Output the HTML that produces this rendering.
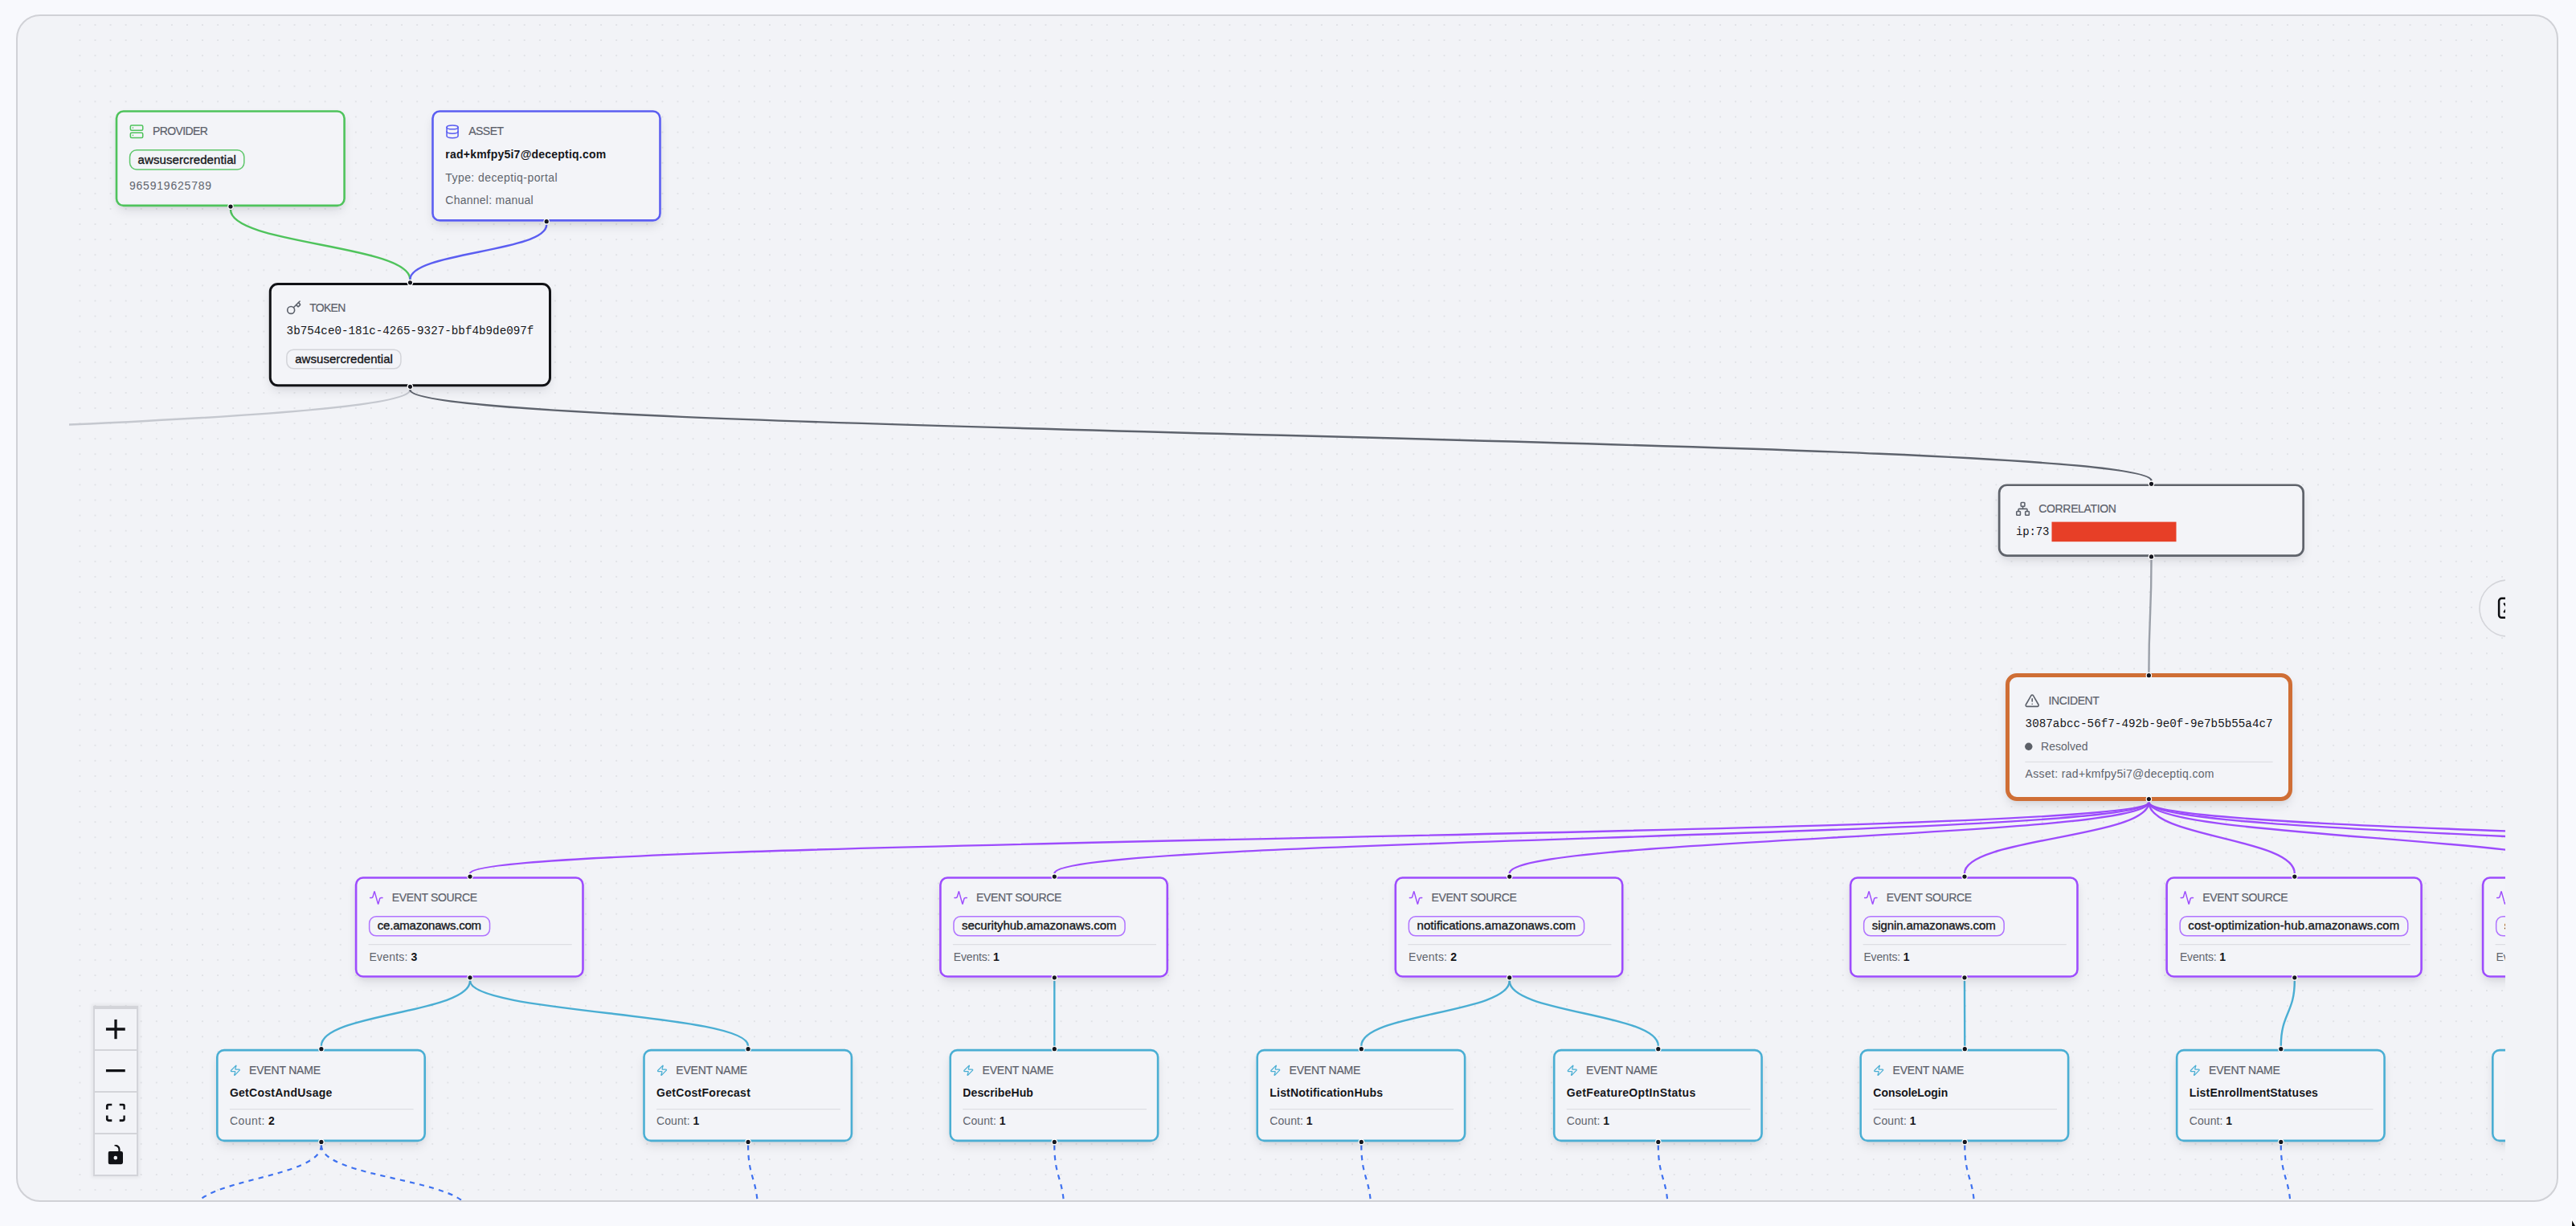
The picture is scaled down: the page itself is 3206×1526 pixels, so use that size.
<!DOCTYPE html><html><head><meta charset="utf-8"><title>Incident graph</title><style>
html,body{margin:0;padding:0;}
body{width:3206px;height:1526px;overflow:hidden;position:relative;background:#f8f9fd;font-family:"Liberation Sans", sans-serif;}
.canvas{position:absolute;left:20px;top:18px;width:3160px;height:1474px;border:2px solid #d0d1d6;border-radius:30px;background:#f2f3f7;}
.pane{position:absolute;left:86px;top:20px;width:3032px;height:1474px;overflow:hidden;}
.pane svg{position:absolute;left:0;top:0;}
.node{position:absolute;box-sizing:border-box;background:#f3f4f8;box-shadow:0 7px 14px -3px rgba(30,32,45,0.13),0 3px 6px -2px rgba(30,32,45,0.06);}
.ctrl{position:absolute;left:116.4px;top:1252.4px;width:51.2px;border:2px solid #d3d4d9;border-top-width:4px;border-bottom:none;box-shadow:0 0 4px 2px rgba(0,0,0,0.06);background:#f2f3f7;}
.ctrl div{height:50px;border-bottom:2px solid #d3d4d9;position:relative;}
.ctrl svg{position:absolute;left:50%;top:50%;transform:translate(-50%,-50%);}
</style></head><body>
<div class="canvas"></div>
<div class="pane">
<svg width="3032" height="1474" viewBox="86 20 3032 1474">
<defs><pattern id="dots" patternUnits="userSpaceOnUse" x="89.86" y="21.46" width="19.08" height="19.08"><circle cx="9.54" cy="9.54" r="0.7" fill="#c6c7cd"/></pattern></defs>
<rect x="86" y="20" width="3032" height="1474" fill="url(#dots)"/>
<path d="M287,261.1 C287,304.45 510.4,304.45 510.4,347.8" fill="none" stroke="#4fc35c" stroke-width="2.4"/>
<path d="M680.2,279.7 C680.2,313.75 510.4,313.75 510.4,347.8" fill="none" stroke="#5b5ef1" stroke-width="2.4"/>
<path d="M510.4,485.3 C510.4,550.4 -1594,550.4 -1594,615.5" fill="none" stroke="#c5c8cf" stroke-width="2.4"/>
<path d="M510.4,485.3 C510.4,541.8 2677.5,541.8 2677.5,598.3" fill="none" stroke="#5e636d" stroke-width="2.4"/>
<path d="M2677.5,696.9 C2677.5,766.8 2674.4,766.8 2674.4,836.7" fill="none" stroke="#9ba0a9" stroke-width="2.4"/>
<path d="M2674.4,998.6 C2674.4,1042.85 585,1042.85 585,1087.1" fill="none" stroke="#9d4cfd" stroke-width="2.4"/>
<path d="M2674.4,998.6 C2674.4,1042.85 1312.3,1042.85 1312.3,1087.1" fill="none" stroke="#9d4cfd" stroke-width="2.4"/>
<path d="M2674.4,998.6 C2674.4,1042.85 1878.7,1042.85 1878.7,1087.1" fill="none" stroke="#9d4cfd" stroke-width="2.4"/>
<path d="M2674.4,998.6 C2674.4,1042.85 2445,1042.85 2445,1087.1" fill="none" stroke="#9d4cfd" stroke-width="2.4"/>
<path d="M2674.4,998.6 C2674.4,1042.85 2855.8,1042.85 2855.8,1087.1" fill="none" stroke="#9d4cfd" stroke-width="2.4"/>
<path d="M2674.4,998.6 C2674.4,1042.85 3232,1042.85 3232,1087.1" fill="none" stroke="#9d4cfd" stroke-width="2.4"/>
<path d="M2674.4,998.6 C2674.4,1042.85 3642,1042.85 3642,1087.1" fill="none" stroke="#9d4cfd" stroke-width="2.4"/>
<path d="M2674.4,998.6 C2674.4,1042.85 4067,1042.85 4067,1087.1" fill="none" stroke="#9d4cfd" stroke-width="2.4"/>
<path d="M585,1220.8 C585,1261.25 399.9,1261.25 399.9,1301.7" fill="none" stroke="#4aaed3" stroke-width="2.4"/>
<path d="M585,1220.8 C585,1261.25 931.1,1261.25 931.1,1301.7" fill="none" stroke="#4aaed3" stroke-width="2.4"/>
<path d="M1312.3,1220.8 C1312.3,1261.25 1312.3,1261.25 1312.3,1301.7" fill="none" stroke="#4aaed3" stroke-width="2.4"/>
<path d="M1878.7,1220.8 C1878.7,1261.25 1694.3,1261.25 1694.3,1301.7" fill="none" stroke="#4aaed3" stroke-width="2.4"/>
<path d="M1878.7,1220.8 C1878.7,1261.25 2063.8,1261.25 2063.8,1301.7" fill="none" stroke="#4aaed3" stroke-width="2.4"/>
<path d="M2445,1220.8 C2445,1261.25 2445.3,1261.25 2445.3,1301.7" fill="none" stroke="#4aaed3" stroke-width="2.4"/>
<path d="M2855.8,1220.8 C2855.8,1261.25 2838.8,1261.25 2838.8,1301.7" fill="none" stroke="#4aaed3" stroke-width="2.4"/>
<path d="M3232,1220.8 C3232,1261.25 3231.9,1261.25 3231.9,1301.7" fill="none" stroke="#4aaed3" stroke-width="2.4"/>
<path d="M399.9,1425.4 C399.9,1467.1 240.2,1467.1 240.2,1508.8" fill="none" stroke="#3f72f0" stroke-width="2.2" stroke-dasharray="6.2 6.2"/>
<path d="M399.9,1425.4 C399.9,1467.1 583.5,1467.1 583.5,1508.8" fill="none" stroke="#3f72f0" stroke-width="2.2" stroke-dasharray="6.2 6.2"/>
<path d="M931.1,1425.4 C931.1,1467.1 943.1,1467.1 943.1,1508.8" fill="none" stroke="#3f72f0" stroke-width="2.2" stroke-dasharray="6.2 6.2"/>
<path d="M1312.3,1425.4 C1312.3,1467.1 1324.3,1467.1 1324.3,1508.8" fill="none" stroke="#3f72f0" stroke-width="2.2" stroke-dasharray="6.2 6.2"/>
<path d="M1694.3,1425.4 C1694.3,1467.1 1706.3,1467.1 1706.3,1508.8" fill="none" stroke="#3f72f0" stroke-width="2.2" stroke-dasharray="6.2 6.2"/>
<path d="M2063.8,1425.4 C2063.8,1467.1 2075.8,1467.1 2075.8,1508.8" fill="none" stroke="#3f72f0" stroke-width="2.2" stroke-dasharray="6.2 6.2"/>
<path d="M2445.3,1425.4 C2445.3,1467.1 2457.3,1467.1 2457.3,1508.8" fill="none" stroke="#3f72f0" stroke-width="2.2" stroke-dasharray="6.2 6.2"/>
<path d="M2838.8,1425.4 C2838.8,1467.1 2850.8,1467.1 2850.8,1508.8" fill="none" stroke="#3f72f0" stroke-width="2.2" stroke-dasharray="6.2 6.2"/>
<path d="M3231.9,1425.4 C3231.9,1467.1 3243.9,1467.1 3243.9,1508.8" fill="none" stroke="#3f72f0" stroke-width="2.2" stroke-dasharray="6.2 6.2"/>
</svg>
<div class="node" style="left:58px;top:117px;width:286px;height:120px;border-radius:10px"></div>
<div class="node" style="left:451px;top:117px;width:286px;height:139px;border-radius:10px"></div>
<div class="node" style="left:249px;top:332px;width:351px;height:129px;border-radius:11px"></div>
<div class="node" style="left:2401px;top:582px;width:381px;height:91px;border-radius:11px"></div>
<div class="node" style="left:2410px;top:818px;width:357px;height:159px;border-radius:14px"></div>
<div class="node" style="left:356px;top:1071px;width:285px;height:126px;border-radius:10px"></div>
<div class="node" style="left:1083px;top:1071px;width:285px;height:126px;border-radius:10px"></div>
<div class="node" style="left:1650px;top:1071px;width:284px;height:126px;border-radius:10px"></div>
<div class="node" style="left:2216px;top:1071px;width:285px;height:126px;border-radius:10px"></div>
<div class="node" style="left:2609px;top:1071px;width:320px;height:126px;border-radius:10px"></div>
<div class="node" style="left:3003px;top:1071px;width:285px;height:126px;border-radius:10px"></div>
<div class="node" style="left:183px;top:1286px;width:261px;height:115px;border-radius:10px"></div>
<div class="node" style="left:714px;top:1286px;width:261px;height:115px;border-radius:10px"></div>
<div class="node" style="left:1095px;top:1286px;width:261px;height:115px;border-radius:10px"></div>
<div class="node" style="left:1477px;top:1286px;width:261px;height:115px;border-radius:10px"></div>
<div class="node" style="left:1847px;top:1286px;width:261px;height:115px;border-radius:10px"></div>
<div class="node" style="left:2228px;top:1286px;width:261px;height:115px;border-radius:10px"></div>
<div class="node" style="left:2622px;top:1286px;width:261px;height:115px;border-radius:10px"></div>
<div class="node" style="left:3015px;top:1286px;width:261px;height:115px;border-radius:10px"></div>
<svg width="3032" height="1474" viewBox="86 20 3032 1474">
<rect x="145" y="138.5" width="283.6" height="117.4" rx="8.7" fill="none" stroke="#4fc35c" stroke-width="2.6"/>
<rect x="538.5" y="138.5" width="283" height="135.9" rx="8.7" fill="none" stroke="#5b5ef1" stroke-width="2.6"/>
<rect x="336.3" y="353.5" width="348.2" height="126.3" rx="9.5" fill="none" stroke="#111216" stroke-width="3"/>
<rect x="2488.15" y="603.75" width="378.5" height="87.8" rx="9.65" fill="none" stroke="#5f636b" stroke-width="2.7"/>
<rect x="2498.5" y="840.5" width="352" height="154" rx="11.5" fill="none" stroke="#cf6e35" stroke-width="5"/>
<rect x="443.1" y="1092.5" width="282.4" height="123" rx="8.7" fill="none" stroke="#9d4cfd" stroke-width="2.6"/>
<rect x="1170.4" y="1092.5" width="282.4" height="123" rx="8.7" fill="none" stroke="#9d4cfd" stroke-width="2.6"/>
<rect x="1736.8" y="1092.5" width="282.4" height="123" rx="8.7" fill="none" stroke="#9d4cfd" stroke-width="2.6"/>
<rect x="2303.1" y="1092.5" width="282.4" height="123" rx="8.7" fill="none" stroke="#9d4cfd" stroke-width="2.6"/>
<rect x="2696.6" y="1092.5" width="317" height="123" rx="8.7" fill="none" stroke="#9d4cfd" stroke-width="2.6"/>
<rect x="3090.1" y="1092.5" width="282.4" height="123" rx="8.7" fill="none" stroke="#9d4cfd" stroke-width="2.6"/>
<rect x="270.3" y="1307.1" width="258.4" height="112.8" rx="8.7" fill="none" stroke="#4aaed3" stroke-width="2.6"/>
<rect x="801.5" y="1307.1" width="258.4" height="112.8" rx="8.7" fill="none" stroke="#4aaed3" stroke-width="2.6"/>
<rect x="1182.7" y="1307.1" width="258.4" height="112.8" rx="8.7" fill="none" stroke="#4aaed3" stroke-width="2.6"/>
<rect x="1564.7" y="1307.1" width="258.4" height="112.8" rx="8.7" fill="none" stroke="#4aaed3" stroke-width="2.6"/>
<rect x="1934.2" y="1307.1" width="258.4" height="112.8" rx="8.7" fill="none" stroke="#4aaed3" stroke-width="2.6"/>
<rect x="2315.7" y="1307.1" width="258.4" height="112.8" rx="8.7" fill="none" stroke="#4aaed3" stroke-width="2.6"/>
<rect x="2709.2" y="1307.1" width="258.4" height="112.8" rx="8.7" fill="none" stroke="#4aaed3" stroke-width="2.6"/>
<rect x="3102.3" y="1307.1" width="258.4" height="112.8" rx="8.7" fill="none" stroke="#4aaed3" stroke-width="2.6"/>
<g transform="translate(160.8,154.5) scale(0.77)" fill="none" stroke="#4fc35c" stroke-width="2" stroke-linecap="round" stroke-linejoin="round"><rect width="20" height="8" x="2" y="2" rx="2" ry="2"/><rect width="20" height="8" x="2" y="14" rx="2" ry="2"/><line x1="6" x2="6.01" y1="6" y2="6"/><line x1="6" x2="6.01" y1="18" y2="18"/></g>
<text x="189.9" y="168" font-family='"Liberation Sans", sans-serif' font-size="14" font-weight="400" fill="#5c616b" stroke="#5c616b" stroke-width="0.2" textLength="68.9" lengthAdjust="spacing">PROVIDER</text>
<rect x="161.55" y="186.75" width="142.3" height="24.3" rx="8.5" fill="none" stroke="#5fc76b" stroke-width="1.5"/>
<text x="171.6" y="203.8" font-family='"Liberation Sans", sans-serif' font-size="15" font-weight="400" fill="#15161a" stroke="#15161a" stroke-width="0.35" textLength="122.3" lengthAdjust="spacing">awsusercredential</text>
<text x="160.9" y="235.9" font-family='"Liberation Sans", sans-serif' font-size="14" font-weight="400" fill="#5f646d" textLength="102.2" lengthAdjust="spacing">965919625789</text>
<g transform="translate(553.7,154.5) scale(0.78)" fill="none" stroke="#5b5ef1" stroke-width="2" stroke-linecap="round" stroke-linejoin="round"><ellipse cx="12" cy="5" rx="9" ry="3"/><path d="M3 5V19A9 3 0 0 0 21 19V5"/><path d="M3 12A9 3 0 0 0 21 12"/></g>
<text x="583.3" y="168" font-family='"Liberation Sans", sans-serif' font-size="14" font-weight="400" fill="#5c616b" stroke="#5c616b" stroke-width="0.2" textLength="43.7" lengthAdjust="spacing">ASSET</text>
<text x="554.3" y="196.8" font-family='"Liberation Sans", sans-serif' font-size="14" font-weight="700" fill="#15161a" textLength="199.9" lengthAdjust="spacing">rad+kmfpy5i7@deceptiq.com</text>
<text x="554.3" y="226" font-family='"Liberation Sans", sans-serif' font-size="14" font-weight="400" fill="#5f646d" textLength="139.3" lengthAdjust="spacing">Type: deceptiq-portal</text>
<text x="554.3" y="254.2" font-family='"Liberation Sans", sans-serif' font-size="14" font-weight="400" fill="#5f646d" textLength="109.4" lengthAdjust="spacing">Channel: manual</text>
<g transform="translate(356.1,373.4) scale(0.81)" fill="none" stroke="#5c616b" stroke-width="2" stroke-linecap="round" stroke-linejoin="round"><path d="m15.5 7.5 2.3 2.3a1 1 0 0 0 1.4 0l2.1-2.1a1 1 0 0 0 0-1.4L19 4"/><path d="m21 2-9.6 9.6"/><circle cx="7.5" cy="15.5" r="5.5"/></g>
<text x="385.3" y="387.9" font-family='"Liberation Sans", sans-serif' font-size="14" font-weight="400" fill="#5c616b" stroke="#5c616b" stroke-width="0.2" textLength="45" lengthAdjust="spacing">TOKEN</text>
<text x="356.6" y="416.4" font-family='"Liberation Mono", monospace' font-size="14.26" font-weight="400" fill="#15161a" textLength="307.8" lengthAdjust="spacing">3b754ce0-181c-4265-9327-bbf4b9de097f</text>
<rect x="356.85" y="435.15" width="142.1" height="23.7" rx="8.5" fill="none" stroke="#d3d4d9" stroke-width="1.5"/>
<text x="367.2" y="452.1" font-family='"Liberation Sans", sans-serif' font-size="15" font-weight="400" fill="#15161a" stroke="#15161a" stroke-width="0.35" textLength="121.7" lengthAdjust="spacing">awsusercredential</text>
<g transform="translate(2508.2,624) scale(0.78)" fill="none" stroke="#5c616b" stroke-width="2" stroke-linecap="round" stroke-linejoin="round"><rect x="16" y="16" width="6" height="6" rx="1"/><rect x="2" y="16" width="6" height="6" rx="1"/><rect x="9" y="2" width="6" height="6" rx="1"/><path d="M5 16v-3a1 1 0 0 1 1-1h12a1 1 0 0 1 1 1v3"/><path d="M12 12V8"/></g>
<text x="2537.3" y="637.9" font-family='"Liberation Sans", sans-serif' font-size="14" font-weight="400" fill="#5c616b" stroke="#5c616b" stroke-width="0.2" textLength="96.6" lengthAdjust="spacing">CORRELATION</text>
<text x="2509.1" y="666.4" font-family='"Liberation Mono", monospace' font-size="14" font-weight="400" fill="#15161a" textLength="41.3" lengthAdjust="spacing">ip:73</text>
<rect x="2553.5" y="649.6" width="155" height="24.6" fill="#e73f27"/>
<g transform="translate(2519.6,862.6) scale(0.8)" fill="none" stroke="#5c616b" stroke-width="2" stroke-linecap="round" stroke-linejoin="round"><path d="m21.73 18-8-14a2 2 0 0 0-3.48 0l-8 14A2 2 0 0 0 4 21h16a2 2 0 0 0 1.73-3"/><path d="M12 9v4"/><path d="M12 17h.01"/></g>
<text x="2549.4" y="877.3" font-family='"Liberation Sans", sans-serif' font-size="14" font-weight="400" fill="#5c616b" stroke="#5c616b" stroke-width="0.2" textLength="63.5" lengthAdjust="spacing">INCIDENT</text>
<text x="2520.6" y="905.2" font-family='"Liberation Mono", monospace' font-size="14.26" font-weight="400" fill="#15161a" textLength="308" lengthAdjust="spacing">3087abcc-56f7-492b-9e0f-9e7b5b55a4c7</text>
<circle cx="2524.8" cy="929.3" r="4.7" fill="#5c6068"/>
<text x="2540.1" y="934.2" font-family='"Liberation Sans", sans-serif' font-size="14" font-weight="400" fill="#5f646d" textLength="58.4" lengthAdjust="spacing">Resolved</text>
<line x1="2520.3" y1="948.3" x2="2828.6" y2="948.3" stroke="#dddee3" stroke-width="1.3"/>
<text x="2520.6" y="968" font-family='"Liberation Sans", sans-serif' font-size="14" font-weight="400" fill="#5f646d" textLength="234.9" lengthAdjust="spacing">Asset: rad+kmfpy5i7@deceptiq.com</text>
<g transform="translate(459.1,1108.2) scale(0.77)" fill="none" stroke="#9d4cfd" stroke-width="1.9" stroke-linecap="round" stroke-linejoin="round"><path d="M22 12h-2.48a2 2 0 0 0-1.93 1.46l-2.35 8.36a.25.25 0 0 1-.48 0L9.24 2.18a.25.25 0 0 0-.48 0l-2.35 8.36A2 2 0 0 1 4.49 12H2"/></g>
<text x="487.7" y="1122.4" font-family='"Liberation Sans", sans-serif' font-size="14" font-weight="400" fill="#5c616b" stroke="#5c616b" stroke-width="0.2" textLength="106.4" lengthAdjust="spacing">EVENT SOURCE</text>
<rect x="459.65" y="1140.75" width="149.9" height="24.1" rx="8.5" fill="none" stroke="#b073ff" stroke-width="1.5"/>
<text x="469.8" y="1157.05" font-family='"Liberation Sans", sans-serif' font-size="15" font-weight="400" fill="#15161a" stroke="#15161a" stroke-width="0.35" textLength="129.3" lengthAdjust="spacing">ce.amazonaws.com</text>
<line x1="458.6" y1="1175.7" x2="711.7" y2="1175.7" stroke="#dddee3" stroke-width="1.3"/>
<text x="459.4" y="1196.2" font-family='"Liberation Sans", sans-serif' font-size="14" textLength="60" lengthAdjust="spacing"><tspan fill="#5f646d" font-weight="400">Events: </tspan><tspan fill="#15161a" font-weight="700">3</tspan></text>
<g transform="translate(1186.4,1108.2) scale(0.77)" fill="none" stroke="#9d4cfd" stroke-width="1.9" stroke-linecap="round" stroke-linejoin="round"><path d="M22 12h-2.48a2 2 0 0 0-1.93 1.46l-2.35 8.36a.25.25 0 0 1-.48 0L9.24 2.18a.25.25 0 0 0-.48 0l-2.35 8.36A2 2 0 0 1 4.49 12H2"/></g>
<text x="1215" y="1122.4" font-family='"Liberation Sans", sans-serif' font-size="14" font-weight="400" fill="#5c616b" stroke="#5c616b" stroke-width="0.2" textLength="106.4" lengthAdjust="spacing">EVENT SOURCE</text>
<rect x="1186.95" y="1140.75" width="213.1" height="24.1" rx="8.5" fill="none" stroke="#b073ff" stroke-width="1.5"/>
<text x="1197.1" y="1157.05" font-family='"Liberation Sans", sans-serif' font-size="15" font-weight="400" fill="#15161a" stroke="#15161a" stroke-width="0.35" textLength="192.5" lengthAdjust="spacing">securityhub.amazonaws.com</text>
<line x1="1185.9" y1="1175.7" x2="1439" y2="1175.7" stroke="#dddee3" stroke-width="1.3"/>
<text x="1186.7" y="1196.2" font-family='"Liberation Sans", sans-serif' font-size="14" textLength="57.2" lengthAdjust="spacing"><tspan fill="#5f646d" font-weight="400">Events: </tspan><tspan fill="#15161a" font-weight="700">1</tspan></text>
<g transform="translate(1752.8,1108.2) scale(0.77)" fill="none" stroke="#9d4cfd" stroke-width="1.9" stroke-linecap="round" stroke-linejoin="round"><path d="M22 12h-2.48a2 2 0 0 0-1.93 1.46l-2.35 8.36a.25.25 0 0 1-.48 0L9.24 2.18a.25.25 0 0 0-.48 0l-2.35 8.36A2 2 0 0 1 4.49 12H2"/></g>
<text x="1781.4" y="1122.4" font-family='"Liberation Sans", sans-serif' font-size="14" font-weight="400" fill="#5c616b" stroke="#5c616b" stroke-width="0.2" textLength="106.4" lengthAdjust="spacing">EVENT SOURCE</text>
<rect x="1753.35" y="1140.75" width="218.2" height="24.1" rx="8.5" fill="none" stroke="#b073ff" stroke-width="1.5"/>
<text x="1763.5" y="1157.05" font-family='"Liberation Sans", sans-serif' font-size="15" font-weight="400" fill="#15161a" stroke="#15161a" stroke-width="0.35" textLength="197.6" lengthAdjust="spacing">notifications.amazonaws.com</text>
<line x1="1752.3" y1="1175.7" x2="2005.4" y2="1175.7" stroke="#dddee3" stroke-width="1.3"/>
<text x="1753.1" y="1196.2" font-family='"Liberation Sans", sans-serif' font-size="14" textLength="60" lengthAdjust="spacing"><tspan fill="#5f646d" font-weight="400">Events: </tspan><tspan fill="#15161a" font-weight="700">2</tspan></text>
<g transform="translate(2319.1,1108.2) scale(0.77)" fill="none" stroke="#9d4cfd" stroke-width="1.9" stroke-linecap="round" stroke-linejoin="round"><path d="M22 12h-2.48a2 2 0 0 0-1.93 1.46l-2.35 8.36a.25.25 0 0 1-.48 0L9.24 2.18a.25.25 0 0 0-.48 0l-2.35 8.36A2 2 0 0 1 4.49 12H2"/></g>
<text x="2347.7" y="1122.4" font-family='"Liberation Sans", sans-serif' font-size="14" font-weight="400" fill="#5c616b" stroke="#5c616b" stroke-width="0.2" textLength="106.4" lengthAdjust="spacing">EVENT SOURCE</text>
<rect x="2319.65" y="1140.75" width="174.5" height="24.1" rx="8.5" fill="none" stroke="#b073ff" stroke-width="1.5"/>
<text x="2329.8" y="1157.05" font-family='"Liberation Sans", sans-serif' font-size="15" font-weight="400" fill="#15161a" stroke="#15161a" stroke-width="0.35" textLength="153.9" lengthAdjust="spacing">signin.amazonaws.com</text>
<line x1="2318.6" y1="1175.7" x2="2571.7" y2="1175.7" stroke="#dddee3" stroke-width="1.3"/>
<text x="2319.4" y="1196.2" font-family='"Liberation Sans", sans-serif' font-size="14" textLength="57.2" lengthAdjust="spacing"><tspan fill="#5f646d" font-weight="400">Events: </tspan><tspan fill="#15161a" font-weight="700">1</tspan></text>
<g transform="translate(2712.6,1108.2) scale(0.77)" fill="none" stroke="#9d4cfd" stroke-width="1.9" stroke-linecap="round" stroke-linejoin="round"><path d="M22 12h-2.48a2 2 0 0 0-1.93 1.46l-2.35 8.36a.25.25 0 0 1-.48 0L9.24 2.18a.25.25 0 0 0-.48 0l-2.35 8.36A2 2 0 0 1 4.49 12H2"/></g>
<text x="2741.2" y="1122.4" font-family='"Liberation Sans", sans-serif' font-size="14" font-weight="400" fill="#5c616b" stroke="#5c616b" stroke-width="0.2" textLength="106.4" lengthAdjust="spacing">EVENT SOURCE</text>
<rect x="2713.15" y="1140.75" width="283.6" height="24.1" rx="8.5" fill="none" stroke="#b073ff" stroke-width="1.5"/>
<text x="2723.3" y="1157.05" font-family='"Liberation Sans", sans-serif' font-size="15" font-weight="400" fill="#15161a" stroke="#15161a" stroke-width="0.35" textLength="263" lengthAdjust="spacing">cost-optimization-hub.amazonaws.com</text>
<line x1="2712.1" y1="1175.7" x2="2999.8" y2="1175.7" stroke="#dddee3" stroke-width="1.3"/>
<text x="2712.9" y="1196.2" font-family='"Liberation Sans", sans-serif' font-size="14" textLength="57.2" lengthAdjust="spacing"><tspan fill="#5f646d" font-weight="400">Events: </tspan><tspan fill="#15161a" font-weight="700">1</tspan></text>
<g transform="translate(3106.1,1108.2) scale(0.77)" fill="none" stroke="#9d4cfd" stroke-width="1.9" stroke-linecap="round" stroke-linejoin="round"><path d="M22 12h-2.48a2 2 0 0 0-1.93 1.46l-2.35 8.36a.25.25 0 0 1-.48 0L9.24 2.18a.25.25 0 0 0-.48 0l-2.35 8.36A2 2 0 0 1 4.49 12H2"/></g>
<text x="3134.7" y="1122.4" font-family='"Liberation Sans", sans-serif' font-size="14" font-weight="400" fill="#5c616b" stroke="#5c616b" stroke-width="0.2" textLength="106.4" lengthAdjust="spacing">EVENT SOURCE</text>
<rect x="3106.65" y="1140.75" width="140.6" height="24.1" rx="8.5" fill="none" stroke="#b073ff" stroke-width="1.5"/>
<text x="3116.8" y="1157.05" font-family='"Liberation Sans", sans-serif' font-size="15" font-weight="400" fill="#15161a" stroke="#15161a" stroke-width="0.35" textLength="120" lengthAdjust="spacing">s3.amazonaws.com</text>
<line x1="3105.6" y1="1175.7" x2="3358.7" y2="1175.7" stroke="#dddee3" stroke-width="1.3"/>
<text x="3106.4" y="1196.2" font-family='"Liberation Sans", sans-serif' font-size="14" textLength="57.2" lengthAdjust="spacing"><tspan fill="#5f646d" font-weight="400">Events: </tspan><tspan fill="#15161a" font-weight="700">1</tspan></text>
<g transform="translate(285.5,1325) scale(0.61)" fill="none" stroke="#4aaed3" stroke-width="2" stroke-linecap="round" stroke-linejoin="round"><path d="M4 14a1 1 0 0 1-.78-1.63l9.9-10.2a.5.5 0 0 1 .86.46l-1.92 6.02A1 1 0 0 0 13 10h7a1 1 0 0 1 .78 1.63l-9.9 10.2a.5.5 0 0 1-.86-.46l1.92-6.02A1 1 0 0 0 11 14z"/></g>
<text x="310.1" y="1336.7" font-family='"Liberation Sans", sans-serif' font-size="14" font-weight="400" fill="#5c616b" stroke="#5c616b" stroke-width="0.2" textLength="88.9" lengthAdjust="spacing">EVENT NAME</text>
<text x="285.9" y="1365.3" font-family='"Liberation Sans", sans-serif' font-size="14" font-weight="700" fill="#15161a" textLength="127.4" lengthAdjust="spacing">GetCostAndUsage</text>
<line x1="285.9" y1="1380.6" x2="514.6" y2="1380.6" stroke="#dddee3" stroke-width="1.3"/>
<text x="285.9" y="1400" font-family='"Liberation Sans", sans-serif' font-size="14" textLength="56" lengthAdjust="spacing"><tspan fill="#5f646d" font-weight="400">Count: </tspan><tspan fill="#15161a" font-weight="700">2</tspan></text>
<g transform="translate(816.7,1325) scale(0.61)" fill="none" stroke="#4aaed3" stroke-width="2" stroke-linecap="round" stroke-linejoin="round"><path d="M4 14a1 1 0 0 1-.78-1.63l9.9-10.2a.5.5 0 0 1 .86.46l-1.92 6.02A1 1 0 0 0 13 10h7a1 1 0 0 1 .78 1.63l-9.9 10.2a.5.5 0 0 1-.86-.46l1.92-6.02A1 1 0 0 0 11 14z"/></g>
<text x="841.3" y="1336.7" font-family='"Liberation Sans", sans-serif' font-size="14" font-weight="400" fill="#5c616b" stroke="#5c616b" stroke-width="0.2" textLength="88.9" lengthAdjust="spacing">EVENT NAME</text>
<text x="817.1" y="1365.3" font-family='"Liberation Sans", sans-serif' font-size="14" font-weight="700" fill="#15161a" textLength="116.7" lengthAdjust="spacing">GetCostForecast</text>
<line x1="817.1" y1="1380.6" x2="1045.8" y2="1380.6" stroke="#dddee3" stroke-width="1.3"/>
<text x="817.1" y="1400" font-family='"Liberation Sans", sans-serif' font-size="14" textLength="53.3" lengthAdjust="spacing"><tspan fill="#5f646d" font-weight="400">Count: </tspan><tspan fill="#15161a" font-weight="700">1</tspan></text>
<g transform="translate(1197.9,1325) scale(0.61)" fill="none" stroke="#4aaed3" stroke-width="2" stroke-linecap="round" stroke-linejoin="round"><path d="M4 14a1 1 0 0 1-.78-1.63l9.9-10.2a.5.5 0 0 1 .86.46l-1.92 6.02A1 1 0 0 0 13 10h7a1 1 0 0 1 .78 1.63l-9.9 10.2a.5.5 0 0 1-.86-.46l1.92-6.02A1 1 0 0 0 11 14z"/></g>
<text x="1222.5" y="1336.7" font-family='"Liberation Sans", sans-serif' font-size="14" font-weight="400" fill="#5c616b" stroke="#5c616b" stroke-width="0.2" textLength="88.9" lengthAdjust="spacing">EVENT NAME</text>
<text x="1198.3" y="1365.3" font-family='"Liberation Sans", sans-serif' font-size="14" font-weight="700" fill="#15161a" textLength="87.6" lengthAdjust="spacing">DescribeHub</text>
<line x1="1198.3" y1="1380.6" x2="1427" y2="1380.6" stroke="#dddee3" stroke-width="1.3"/>
<text x="1198.3" y="1400" font-family='"Liberation Sans", sans-serif' font-size="14" textLength="53.3" lengthAdjust="spacing"><tspan fill="#5f646d" font-weight="400">Count: </tspan><tspan fill="#15161a" font-weight="700">1</tspan></text>
<g transform="translate(1579.9,1325) scale(0.61)" fill="none" stroke="#4aaed3" stroke-width="2" stroke-linecap="round" stroke-linejoin="round"><path d="M4 14a1 1 0 0 1-.78-1.63l9.9-10.2a.5.5 0 0 1 .86.46l-1.92 6.02A1 1 0 0 0 13 10h7a1 1 0 0 1 .78 1.63l-9.9 10.2a.5.5 0 0 1-.86-.46l1.92-6.02A1 1 0 0 0 11 14z"/></g>
<text x="1604.5" y="1336.7" font-family='"Liberation Sans", sans-serif' font-size="14" font-weight="400" fill="#5c616b" stroke="#5c616b" stroke-width="0.2" textLength="88.9" lengthAdjust="spacing">EVENT NAME</text>
<text x="1580.3" y="1365.3" font-family='"Liberation Sans", sans-serif' font-size="14" font-weight="700" fill="#15161a" textLength="140.7" lengthAdjust="spacing">ListNotificationHubs</text>
<line x1="1580.3" y1="1380.6" x2="1809" y2="1380.6" stroke="#dddee3" stroke-width="1.3"/>
<text x="1580.3" y="1400" font-family='"Liberation Sans", sans-serif' font-size="14" textLength="53.3" lengthAdjust="spacing"><tspan fill="#5f646d" font-weight="400">Count: </tspan><tspan fill="#15161a" font-weight="700">1</tspan></text>
<g transform="translate(1949.4,1325) scale(0.61)" fill="none" stroke="#4aaed3" stroke-width="2" stroke-linecap="round" stroke-linejoin="round"><path d="M4 14a1 1 0 0 1-.78-1.63l9.9-10.2a.5.5 0 0 1 .86.46l-1.92 6.02A1 1 0 0 0 13 10h7a1 1 0 0 1 .78 1.63l-9.9 10.2a.5.5 0 0 1-.86-.46l1.92-6.02A1 1 0 0 0 11 14z"/></g>
<text x="1974" y="1336.7" font-family='"Liberation Sans", sans-serif' font-size="14" font-weight="400" fill="#5c616b" stroke="#5c616b" stroke-width="0.2" textLength="88.9" lengthAdjust="spacing">EVENT NAME</text>
<text x="1949.8" y="1365.3" font-family='"Liberation Sans", sans-serif' font-size="14" font-weight="700" fill="#15161a" textLength="160.5" lengthAdjust="spacing">GetFeatureOptInStatus</text>
<line x1="1949.8" y1="1380.6" x2="2178.5" y2="1380.6" stroke="#dddee3" stroke-width="1.3"/>
<text x="1949.8" y="1400" font-family='"Liberation Sans", sans-serif' font-size="14" textLength="53.3" lengthAdjust="spacing"><tspan fill="#5f646d" font-weight="400">Count: </tspan><tspan fill="#15161a" font-weight="700">1</tspan></text>
<g transform="translate(2330.9,1325) scale(0.61)" fill="none" stroke="#4aaed3" stroke-width="2" stroke-linecap="round" stroke-linejoin="round"><path d="M4 14a1 1 0 0 1-.78-1.63l9.9-10.2a.5.5 0 0 1 .86.46l-1.92 6.02A1 1 0 0 0 13 10h7a1 1 0 0 1 .78 1.63l-9.9 10.2a.5.5 0 0 1-.86-.46l1.92-6.02A1 1 0 0 0 11 14z"/></g>
<text x="2355.5" y="1336.7" font-family='"Liberation Sans", sans-serif' font-size="14" font-weight="400" fill="#5c616b" stroke="#5c616b" stroke-width="0.2" textLength="88.9" lengthAdjust="spacing">EVENT NAME</text>
<text x="2331.3" y="1365.3" font-family='"Liberation Sans", sans-serif' font-size="14" font-weight="700" fill="#15161a" textLength="92.9" lengthAdjust="spacing">ConsoleLogin</text>
<line x1="2331.3" y1="1380.6" x2="2560" y2="1380.6" stroke="#dddee3" stroke-width="1.3"/>
<text x="2331.3" y="1400" font-family='"Liberation Sans", sans-serif' font-size="14" textLength="53.3" lengthAdjust="spacing"><tspan fill="#5f646d" font-weight="400">Count: </tspan><tspan fill="#15161a" font-weight="700">1</tspan></text>
<g transform="translate(2724.4,1325) scale(0.61)" fill="none" stroke="#4aaed3" stroke-width="2" stroke-linecap="round" stroke-linejoin="round"><path d="M4 14a1 1 0 0 1-.78-1.63l9.9-10.2a.5.5 0 0 1 .86.46l-1.92 6.02A1 1 0 0 0 13 10h7a1 1 0 0 1 .78 1.63l-9.9 10.2a.5.5 0 0 1-.86-.46l1.92-6.02A1 1 0 0 0 11 14z"/></g>
<text x="2749" y="1336.7" font-family='"Liberation Sans", sans-serif' font-size="14" font-weight="400" fill="#5c616b" stroke="#5c616b" stroke-width="0.2" textLength="88.9" lengthAdjust="spacing">EVENT NAME</text>
<text x="2724.8" y="1365.3" font-family='"Liberation Sans", sans-serif' font-size="14" font-weight="700" fill="#15161a" textLength="160.1" lengthAdjust="spacing">ListEnrollmentStatuses</text>
<line x1="2724.8" y1="1380.6" x2="2953.5" y2="1380.6" stroke="#dddee3" stroke-width="1.3"/>
<text x="2724.8" y="1400" font-family='"Liberation Sans", sans-serif' font-size="14" textLength="53.3" lengthAdjust="spacing"><tspan fill="#5f646d" font-weight="400">Count: </tspan><tspan fill="#15161a" font-weight="700">1</tspan></text>
<g transform="translate(3117.5,1325) scale(0.61)" fill="none" stroke="#4aaed3" stroke-width="2" stroke-linecap="round" stroke-linejoin="round"><path d="M4 14a1 1 0 0 1-.78-1.63l9.9-10.2a.5.5 0 0 1 .86.46l-1.92 6.02A1 1 0 0 0 13 10h7a1 1 0 0 1 .78 1.63l-9.9 10.2a.5.5 0 0 1-.86-.46l1.92-6.02A1 1 0 0 0 11 14z"/></g>
<text x="3142.1" y="1336.7" font-family='"Liberation Sans", sans-serif' font-size="14" font-weight="400" fill="#5c616b" stroke="#5c616b" stroke-width="0.2" textLength="88.9" lengthAdjust="spacing">EVENT NAME</text>
<text x="3117.9" y="1365.3" font-family='"Liberation Sans", sans-serif' font-size="14" font-weight="700" fill="#15161a" textLength="70" lengthAdjust="spacing">GetObject</text>
<line x1="3117.9" y1="1380.6" x2="3346.6" y2="1380.6" stroke="#dddee3" stroke-width="1.3"/>
<text x="3117.9" y="1400" font-family='"Liberation Sans", sans-serif' font-size="14" textLength="53.3" lengthAdjust="spacing"><tspan fill="#5f646d" font-weight="400">Count: </tspan><tspan fill="#15161a" font-weight="700">1</tspan></text>
<circle cx="287" cy="257.1" r="3.2" fill="#16171f" stroke="#ffffff" stroke-width="1.2"/>
<circle cx="680.2" cy="275.7" r="3.2" fill="#16171f" stroke="#ffffff" stroke-width="1.2"/>
<circle cx="510.4" cy="351.8" r="3.2" fill="#16171f" stroke="#ffffff" stroke-width="1.2"/>
<circle cx="510.4" cy="481.3" r="3.2" fill="#16171f" stroke="#ffffff" stroke-width="1.2"/>
<circle cx="2677.5" cy="602.3" r="3.2" fill="#16171f" stroke="#ffffff" stroke-width="1.2"/>
<circle cx="2677.5" cy="692.9" r="3.2" fill="#16171f" stroke="#ffffff" stroke-width="1.2"/>
<circle cx="2674.4" cy="840.7" r="3.2" fill="#16171f" stroke="#ffffff" stroke-width="1.2"/>
<circle cx="2674.4" cy="994.6" r="3.2" fill="#16171f" stroke="#ffffff" stroke-width="1.2"/>
<circle cx="585" cy="1091.1" r="3.2" fill="#16171f" stroke="#ffffff" stroke-width="1.2"/>
<circle cx="585" cy="1216.8" r="3.2" fill="#16171f" stroke="#ffffff" stroke-width="1.2"/>
<circle cx="1312.3" cy="1091.1" r="3.2" fill="#16171f" stroke="#ffffff" stroke-width="1.2"/>
<circle cx="1312.3" cy="1216.8" r="3.2" fill="#16171f" stroke="#ffffff" stroke-width="1.2"/>
<circle cx="1878.7" cy="1091.1" r="3.2" fill="#16171f" stroke="#ffffff" stroke-width="1.2"/>
<circle cx="1878.7" cy="1216.8" r="3.2" fill="#16171f" stroke="#ffffff" stroke-width="1.2"/>
<circle cx="2445" cy="1091.1" r="3.2" fill="#16171f" stroke="#ffffff" stroke-width="1.2"/>
<circle cx="2445" cy="1216.8" r="3.2" fill="#16171f" stroke="#ffffff" stroke-width="1.2"/>
<circle cx="2855.8" cy="1091.1" r="3.2" fill="#16171f" stroke="#ffffff" stroke-width="1.2"/>
<circle cx="2855.8" cy="1216.8" r="3.2" fill="#16171f" stroke="#ffffff" stroke-width="1.2"/>
<circle cx="3232" cy="1091.1" r="3.2" fill="#16171f" stroke="#ffffff" stroke-width="1.2"/>
<circle cx="3232" cy="1216.8" r="3.2" fill="#16171f" stroke="#ffffff" stroke-width="1.2"/>
<circle cx="399.9" cy="1305.7" r="3.2" fill="#16171f" stroke="#ffffff" stroke-width="1.2"/>
<circle cx="399.9" cy="1421.4" r="3.2" fill="#16171f" stroke="#ffffff" stroke-width="1.2"/>
<circle cx="931.1" cy="1305.7" r="3.2" fill="#16171f" stroke="#ffffff" stroke-width="1.2"/>
<circle cx="931.1" cy="1421.4" r="3.2" fill="#16171f" stroke="#ffffff" stroke-width="1.2"/>
<circle cx="1312.3" cy="1305.7" r="3.2" fill="#16171f" stroke="#ffffff" stroke-width="1.2"/>
<circle cx="1312.3" cy="1421.4" r="3.2" fill="#16171f" stroke="#ffffff" stroke-width="1.2"/>
<circle cx="1694.3" cy="1305.7" r="3.2" fill="#16171f" stroke="#ffffff" stroke-width="1.2"/>
<circle cx="1694.3" cy="1421.4" r="3.2" fill="#16171f" stroke="#ffffff" stroke-width="1.2"/>
<circle cx="2063.8" cy="1305.7" r="3.2" fill="#16171f" stroke="#ffffff" stroke-width="1.2"/>
<circle cx="2063.8" cy="1421.4" r="3.2" fill="#16171f" stroke="#ffffff" stroke-width="1.2"/>
<circle cx="2445.3" cy="1305.7" r="3.2" fill="#16171f" stroke="#ffffff" stroke-width="1.2"/>
<circle cx="2445.3" cy="1421.4" r="3.2" fill="#16171f" stroke="#ffffff" stroke-width="1.2"/>
<circle cx="2838.8" cy="1305.7" r="3.2" fill="#16171f" stroke="#ffffff" stroke-width="1.2"/>
<circle cx="2838.8" cy="1421.4" r="3.2" fill="#16171f" stroke="#ffffff" stroke-width="1.2"/>
<circle cx="3231.9" cy="1305.7" r="3.2" fill="#16171f" stroke="#ffffff" stroke-width="1.2"/>
<circle cx="3231.9" cy="1421.4" r="3.2" fill="#16171f" stroke="#ffffff" stroke-width="1.2"/>
</svg>
</div>
<div style="position:absolute;left:3040px;top:700px;width:78px;height:120px;overflow:hidden"><svg width="78" height="120" viewBox="3040 700 78 120"><circle cx="3121" cy="757" r="35" fill="#f2f3f7" stroke="#d4d5da" stroke-width="1.6"/><path d="M3118 744.8 h-4.5 a3.4 3.4 0 0 0 -3.4 3.4 v17.2 a3.4 3.4 0 0 0 3.4 3.4 h4.5" fill="none" stroke="#0b0c10" stroke-width="2.5"/><path d="M3116.8 751.5 l3.6 5 l-3.6 5" fill="none" stroke="#0b0c10" stroke-width="2.2" stroke-linecap="round" stroke-linejoin="round"/></svg></div>
<div class="ctrl"><div><svg width="24.5" height="24.5" viewBox="0 0 32 32"><path fill="#111216" d="M32 18.133H18.133V32h-4.266V18.133H0v-4.266h13.867V0h4.266v13.867H32z"/></svg></div><div><svg width="24.5" height="4" viewBox="0 0 32 5" preserveAspectRatio="none"><path fill="#111216" d="M0 0h32v4.2H0z"/></svg></div><div><svg width="24.5" height="23" viewBox="0 0 32 30"><path fill="#111216" d="M3.692 4.63c0-.53.4-.938.939-.938h5.215V0H4.708C2.13 0 0 2.054 0 4.63v5.216h3.692V4.631zM27.354 0h-5.2v3.692h5.17c.53 0 .984.4.984.939v5.215H32V4.631A4.624 4.624 0 0027.354 0zm.954 24.83c0 .532-.4.94-.939.94h-5.215v3.768h5.215c2.577 0 4.631-2.13 4.631-4.707v-5.139h-3.692v5.139zm-23.677.94c-.531 0-.939-.4-.939-.94v-5.138H0v5.139c0 2.577 2.13 4.707 4.708 4.707h5.138V25.77H4.631z"/></svg></div><div><svg width="19" height="24.5" viewBox="0 0 25 32"><path fill="#111216" d="M21.333 10.667H19.81V7.619C19.81 3.429 16.38 0 12.19 0c-4.114 1.828-1.37 2.133.305 2.438 1.676.305 4.42 2.59 4.42 5.181v3.048H3.047A3.056 3.056 0 000 13.714v15.238A3.056 3.056 0 003.048 32h18.285a3.056 3.056 0 003.048-3.048V13.714a3.056 3.056 0 00-3.048-3.047zM12.19 24.533a3.056 3.056 0 01-3.047-3.047 3.056 3.056 0 013.047-3.048 3.056 3.056 0 013.048 3.048 3.056 3.056 0 01-3.048 3.047z"/></svg></div></div>
<svg style="position:absolute;left:3196px;top:1514px" width="12" height="16" viewBox="0 0 12 16"><path d="M4.5 3 L4.5 16 L12 16 Z" fill="#000" stroke="#fff" stroke-width="1.2"/></svg>
</body></html>
